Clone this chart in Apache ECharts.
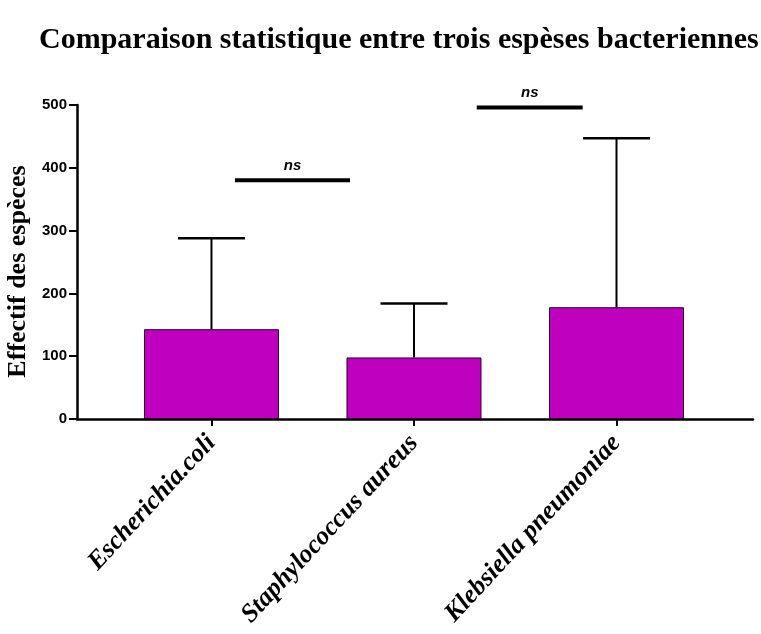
<!DOCTYPE html>
<html>
<head>
<meta charset="utf-8">
<script src="https://cdn.jsdelivr.net/npm/echarts@6/dist/echarts.min.js"></script>
<style>
  html, body { margin: 0; padding: 0; background: #fff; }
  #chart { width: 761px; height: 634px; }
</style>
</head>
<body>
<div id="chart"></div>
<script>
// Bacterial species counts: mean with upper SD whisker
var categories = ['Escherichia.coli', 'Staphylococcus aureus', 'Klebsiella pneumoniae'];
var means = [143, 98, 178];
var upperErr = [288, 184, 447];          // mean + SD
var yTicks = [0, 100, 200, 300, 400, 500];

// Significance annotations: [start x, end x, height, label]
var comparisons = [
  [0.116, 0.684, 380, 'ns'],
  [1.31, 1.833, 496, 'ns']
];

var chart = echarts.init(document.getElementById('chart'), null, { renderer: 'canvas' });

var positions = categories.map(function (_, i) { return i; });
var barData = means.map(function (m, i) { return [i, m]; });
var errData = means.map(function (m, i) { return [i, m, upperErr[i]]; });

var option = {
  animation: false,
  backgroundColor: '#ffffff',
  title: {
    text: 'Comparaison statistique entre trois espèses bacteriennes',
    left: 34,
    top: 20,
    textStyle: {
      fontFamily: 'Liberation Serif',
      fontWeight: 'bold',
      fontSize: 30,
      color: '#000'
    }
  },
  grid: {
    left: 77, right: 8, top: 105, bottom: 215,
    containLabel: false,
    outerBoundsMode: 'none'
  },
  xAxis: {
    type: 'value',
    min: -0.664,
    max: 2.674,
    splitLine: { show: false },
    axisLine: { show: true, onZero: false, lineStyle: { color: '#000', width: 2.5 } },
    axisTick: { show: true, customValues: positions, length: 7, lineStyle: { color: '#000', width: 2 } },
    axisLabel: {
      customValues: positions,
      formatter: function (v) { return categories[Math.round(v)]; },
      rotate: 47,
      margin: 20,
      fontFamily: 'Liberation Serif',
      fontStyle: 'italic',
      fontWeight: 'bold',
      fontSize: 26,
      color: '#000'
    }
  },
  yAxis: {
    type: 'value',
    min: 0,
    max: 500,
    interval: 100,
    name: 'Effectif des espèces',
    nameLocation: 'middle',
    nameGap: 44,
    nameTextStyle: {
      fontFamily: 'Liberation Serif',
      fontWeight: 'bold',
      fontSize: 26,
      color: '#000',
      padding: [0, 19, 0, 0]
    },
    splitLine: { show: false },
    axisLine: { show: true, onZero: false, lineStyle: { color: '#000', width: 2.5 } },
    axisTick: { show: true, length: 8, lineStyle: { color: '#000', width: 2 } },
    axisLabel: {
      margin: 10,
      fontFamily: 'Liberation Sans',
      fontWeight: 'bold',
      fontSize: 15,
      color: '#000',
      customValues: yTicks
    }
  },
  series: [
    {
      type: 'bar',
      data: barData,
      barWidth: 135,
      itemStyle: { color: '#BF00BF', borderColor: '#2a002a', borderWidth: 1 },
      z: 2
    },
    {
      type: 'custom',
      data: errData,
      z: 3,
      renderItem: function (params, api) {
        var x = api.value(0);
        var base = api.coord([x, api.value(1)]);
        var top = api.coord([x, api.value(2)]);
        var half = 33.5;
        return {
          type: 'group',
          children: [
            { type: 'line', shape: { x1: base[0], y1: base[1], x2: top[0], y2: top[1] },
              style: { stroke: '#000', lineWidth: 2 } },
            { type: 'line', shape: { x1: top[0] - half, y1: top[1], x2: top[0] + half, y2: top[1] },
              style: { stroke: '#000', lineWidth: 2.5 } }
          ]
        };
      }
    },
    {
      type: 'custom',
      data: comparisons,
      z: 4,
      renderItem: function (params, api) {
        var a = api.coord([api.value(0), api.value(2)]);
        var b = api.coord([api.value(1), api.value(2)]);
        var label = comparisons[params.dataIndex][3];
        return {
          type: 'group',
          children: [
            { type: 'line', shape: { x1: a[0], y1: a[1], x2: b[0], y2: b[1] },
              style: { stroke: '#000', lineWidth: 4 } },
            { type: 'text', x: (a[0] + b[0]) / 2, y: a[1] - 7,
              style: { text: label, textAlign: 'center', textVerticalAlign: 'bottom',
                       font: 'italic bold 15px "Liberation Sans"', fill: '#000' } }
          ]
        };
      }
    }
  ]
};

chart.setOption(option);
</script>
</body>
</html>
